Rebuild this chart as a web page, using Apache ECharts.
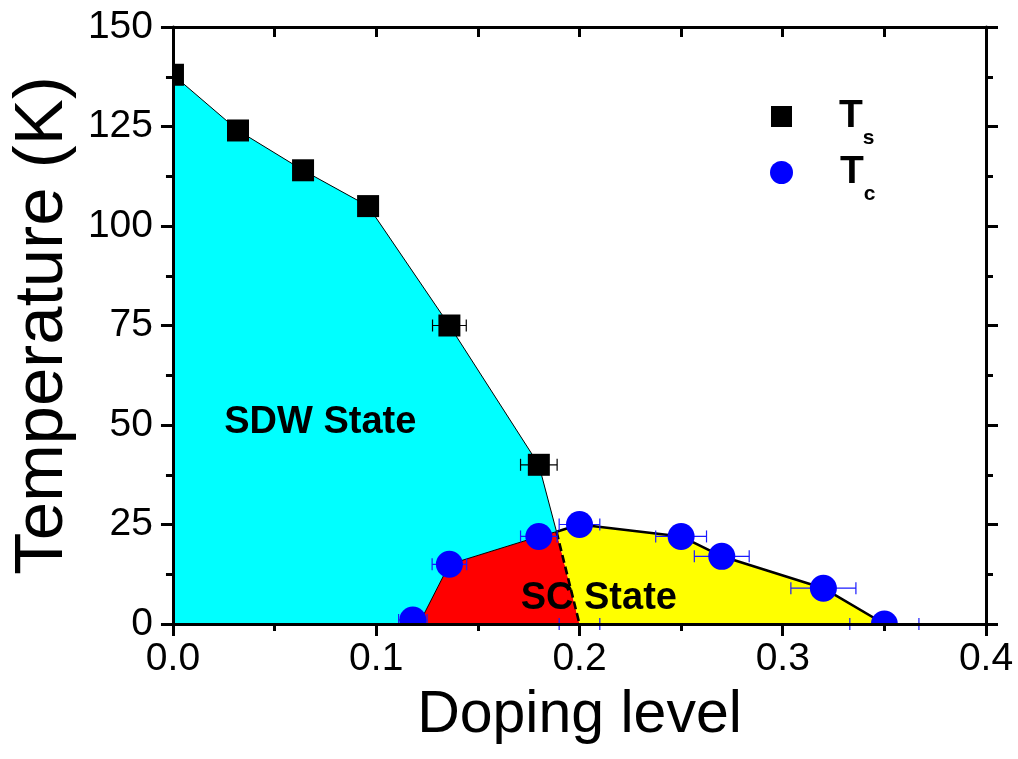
<!DOCTYPE html>
<html>
<head>
<meta charset="utf-8">
<script src="https://cdn.jsdelivr.net/npm/echarts@6/dist/echarts.min.js"></script>
<style>
  html, body { margin: 0; padding: 0; background: #fff; }
  #chart { width: 1018px; height: 759px; }
</style>
</head>
<body>
<div id="chart"></div>
<script>
// structural transition Ts (black squares)
var tsX = [0.0, 0.032, 0.064, 0.096, 0.136, 0.180];
var tsY = [138, 124, 114, 105, 75, 40];
var tsErr = [0, 0, 0, 0.003, 0.0083, 0.009];

// superconducting Tc (blue circles)
var tcX = [0.118, 0.136, 0.180, 0.200, 0.250, 0.270, 0.320, 0.350];
var tcY = [1, 15, 22, 25, 22, 17, 9, 0];
var tcErr = [0.007, 0.0085, 0.009, 0.010, 0.0125, 0.0135, 0.016, 0.017];

// lone error bar sitting on the axis at x = 0.2
var extraErrX = [0.2];
var extraErrY = [0];
var extraErr = [0.01];

// phase boundaries
var scLeftX = [0.121, 0.136, 0.180, 0.1887];
var scLeftY = [0, 15, 22, 23.2];
var scRightX = [0.1887, 0.200, 0.250, 0.270, 0.320, 0.350];
var scRightY = [23.2, 25, 22, 17, 9, 0];
var dashX = [0.1887, 0.200];
var dashY = [23.2, 0];

var regionNames = ['SDW State', 'SC State'];
var regionLabelX = [0.0725, 0.2095];
var regionLabelY = [50.7, 6.5];

var FONT = "'Liberation Sans', Arial, sans-serif";

function zip(xs, ys) { return xs.map(function (x, i) { return [x, ys[i]]; }); }
function zip3(xs, ys, es) { return xs.map(function (x, i) { return [x, ys[i], es[i]]; }); }

var tsPts = zip(tsX, tsY);
var tcPts = zip(tcX, tcY);
var leftPts = zip(scLeftX, scLeftY);
var rightPts = zip(scRightX, scRightY);
var dashPts = zip(dashX, dashY);

// region polygons
var sdwPoly = [[0, 0]].concat(tsPts, [leftPts[leftPts.length - 1]], leftPts.slice(0, -1).reverse());
var redPoly = leftPts.concat([dashPts[1]]);
var yellowPoly = rightPts.concat([dashPts[1]]);

function polygonSeries(pts, color) {
  return {
    type: 'custom', data: pts, silent: true, clip: true, z: 1,
    renderItem: function (params, api) {
      if (params.dataIndex !== 0) return;
      return {
        type: 'polygon',
        shape: { points: pts.map(function (p) { return api.coord(p); }) },
        style: { fill: color }
      };
    }
  };
}

function lineSeries(pts, width, type) {
  return {
    type: 'line', data: pts, symbol: 'none', silent: true, z: 2,
    lineStyle: { color: '#000', width: width, type: type || 'solid' }
  };
}

function errSeries(data, color, cap) {
  return {
    type: 'custom', data: data, silent: true, z: 3,
    renderItem: function (params, api) {
      var e = api.value(2);
      if (!e) return;
      var a = api.coord([api.value(0) - e, api.value(1)]);
      var b = api.coord([api.value(0) + e, api.value(1)]);
      var st = { stroke: color, lineWidth: 1.2 };
      return {
        type: 'group', children: [
          { type: 'line', shape: { x1: a[0], y1: a[1], x2: b[0], y2: b[1] }, style: st },
          { type: 'line', shape: { x1: a[0], y1: a[1] - cap, x2: a[0], y2: a[1] + cap }, style: st },
          { type: 'line', shape: { x1: b[0], y1: b[1] - cap, x2: b[0], y2: b[1] + cap }, style: st }
        ]
      };
    }
  };
}

// "T" with a lowered subscript
var legendText = {
  padding: [0, 0, 0, 42],
  rich: {
    t: { fontSize: 39, fontWeight: 'bold', fontFamily: FONT, color: '#000', lineHeight: 39, verticalAlign: 'top' },
    s: { fontSize: 21, fontWeight: 'bold', fontFamily: FONT, color: '#000', lineHeight: 21, verticalAlign: 'top', padding: [31, 0, 0, 0] }
  }
};

var axisLine = { show: true, onZero: false, lineStyle: { color: '#000', width: 3 } };

var option = {
  backgroundColor: '#fff',
  animation: false,
  grid: { left: 170, right: 32, top: 27, bottom: 135 },
  legend: [
    {
      left: 766, top: 92, data: [{ name: 'Ts', icon: 'rect' }],
      itemWidth: 21, itemHeight: 21, selectedMode: false,
      formatter: function () { return '{t|T}{s|s}'; },
      textStyle: legendText
    },
    {
      left: 765, top: 148, data: [{ name: 'Tc', icon: 'circle' }],
      itemWidth: 23, itemHeight: 23, selectedMode: false,
      formatter: function () { return '{t|T}{s|c}'; },
      textStyle: legendText
    }
  ],
  xAxis: [
    {
      type: 'value', min: 0, max: 0.4, interval: 0.1, position: 'bottom', z: 10,
      name: 'Doping level', nameLocation: 'middle', nameGap: 62,
      nameTextStyle: { fontSize: 59, color: '#000', fontFamily: FONT },
      axisLine: axisLine,
      axisTick: { show: true, length: 12, lineStyle: { color: '#000', width: 3 } },
      minorTick: { show: true, splitNumber: 2, length: 7, lineStyle: { color: '#000', width: 3 } },
      axisLabel: { fontSize: 39, color: '#000', fontFamily: FONT, margin: 16,
        formatter: function (v) { return v.toFixed(1); } },
      splitLine: { show: false }
    },
    {
      type: 'value', min: 0, max: 0.4, interval: 0.1, position: 'top', z: 10,
      axisLine: axisLine,
      axisTick: { show: true, inside: true, length: 10, lineStyle: { color: '#000', width: 3 } },
      minorTick: { show: true, splitNumber: 2, length: 10, lineStyle: { color: '#000', width: 3 } },
      axisLabel: { show: false }, splitLine: { show: false }
    }
  ],
  yAxis: [
    {
      type: 'value', min: 0, max: 150, interval: 25, position: 'left', z: 10,
      name: 'Temperature (K)', nameLocation: 'middle', nameGap: 92, nameRotate: 90,
      nameTextStyle: { fontSize: 69, color: '#000', fontFamily: FONT },
      axisLine: axisLine,
      axisTick: { show: true, length: 12, lineStyle: { color: '#000', width: 3 } },
      minorTick: { show: true, splitNumber: 2, length: 7, lineStyle: { color: '#000', width: 3 } },
      axisLabel: { fontSize: 39, color: '#000', fontFamily: FONT, margin: 20 },
      splitLine: { show: false }
    },
    {
      type: 'value', min: 0, max: 150, interval: 25, position: 'right', z: 10,
      axisLine: axisLine,
      axisTick: { show: true, length: 12, lineStyle: { color: '#000', width: 3 } },
      minorTick: { show: true, splitNumber: 2, length: 7, lineStyle: { color: '#000', width: 3 } },
      axisLabel: { show: false }, splitLine: { show: false }
    }
  ],
  series: [
    polygonSeries(sdwPoly, '#00ffff'),
    polygonSeries(redPoly, '#ff0000'),
    polygonSeries(yellowPoly, '#ffff00'),
    lineSeries(tsPts.concat([leftPts[leftPts.length - 1]]), 1),
    lineSeries(leftPts, 1),
    lineSeries(rightPts, 2.6),
    lineSeries(dashPts, 2.6, [8, 4]),
    errSeries(zip3(tsX, tsY, tsErr), '#000', 6),
    errSeries(zip3(tcX, tcY, tcErr), '#1a1aff', 6),
    errSeries(zip3(extraErrX, extraErrY, extraErr), '#1a1aff', 6),
    {
      name: 'Ts', type: 'custom', data: tsPts, clip: true, z: 4,
      itemStyle: { color: '#000' },
      renderItem: function (params, api) {
        var c = api.coord([api.value(0), api.value(1)]);
        return { type: 'rect', shape: { x: c[0] - 11, y: c[1] - 11, width: 22, height: 22 }, style: { fill: '#000' } };
      }
    },
    {
      name: 'Tc', type: 'custom', data: tcPts, clip: true, z: 4,
      itemStyle: { color: '#0000ff' },
      renderItem: function (params, api) {
        var c = api.coord([api.value(0), api.value(1)]);
        return { type: 'circle', shape: { cx: c[0], cy: c[1], r: 13.5 }, style: { fill: '#0000ff' } };
      }
    },
    {
      type: 'custom', silent: true, z: 5,
      data: zip(regionLabelX, regionLabelY),
      renderItem: function (params, api) {
        var c = api.coord([api.value(0), api.value(1)]);
        return {
          type: 'text', x: c[0], y: c[1],
          style: { text: regionNames[params.dataIndex], fill: '#000', font: 'bold 38px ' + FONT,
            align: 'center', verticalAlign: 'middle' }
        };
      }
    }
  ]
};

var chart = echarts.init(document.getElementById('chart'));
chart.setOption(option);
</script>
</body>
</html>
